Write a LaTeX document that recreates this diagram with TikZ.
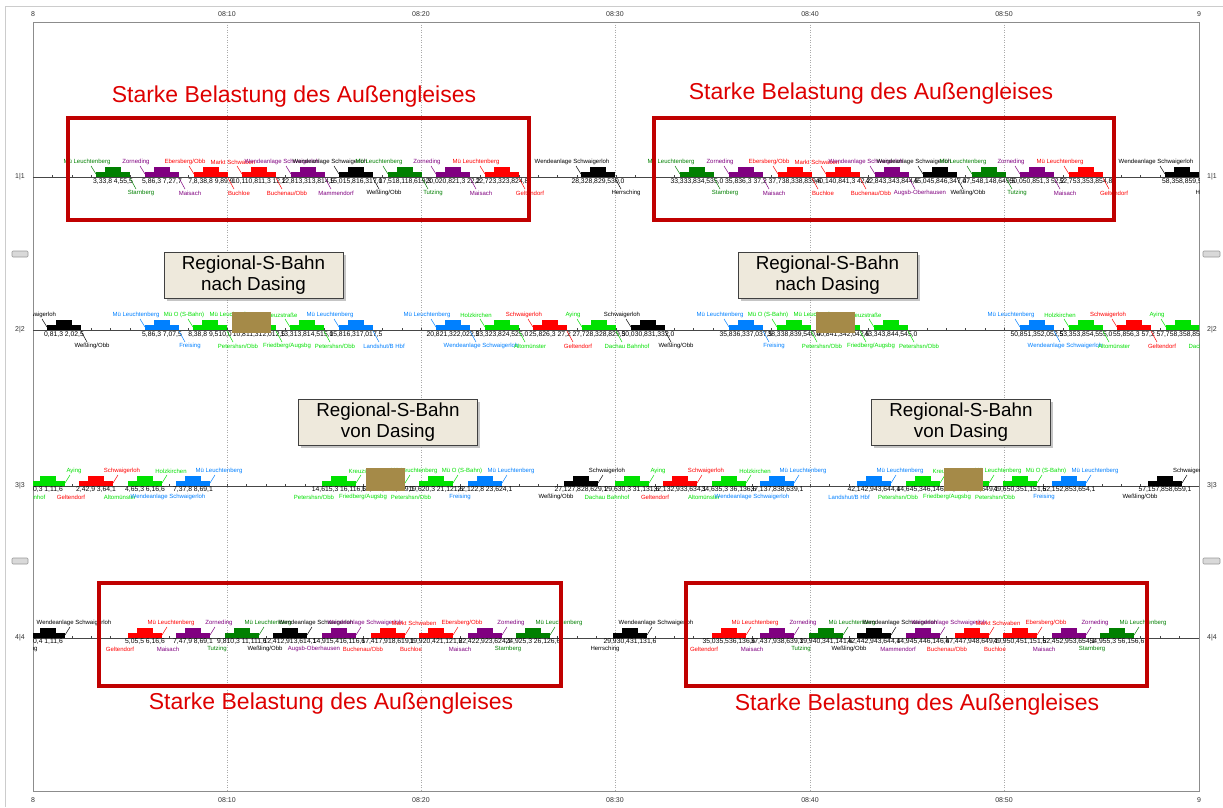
\documentclass[tikz,border=0pt]{standalone}
\usepackage{fontspec}
\setmainfont{Liberation Sans}
\usetikzlibrary{calc,shadows}
\definecolor{dkgreen}{RGB}{0,128,0}
\definecolor{pur}{RGB}{128,0,128}
\definecolor{lime}{RGB}{0,225,0}
\definecolor{sblue}{RGB}{0,128,255}
\definecolor{brownblk}{RGB}{165,138,72}
\definecolor{alertred}{RGB}{222,0,0}
\definecolor{framered}{RGB}{192,0,0}
\definecolor{calloutfill}{RGB}{238,233,220}
\definecolor{trackgray}{RGB}{70,70,70}
\definecolor{gridgray}{RGB}{170,170,170}

\tikzset{
  lbl/.style={font=\fontsize{6}{6}\selectfont, inner sep=0pt},
  num/.style={font=\fontsize{6.8}{6.8}\selectfont, inner sep=0pt, text=black},
  lead/.style={line width=0.5pt},
  axislbl/.style={font=\fontsize{7}{7}\selectfont, inner sep=0pt, text=black!80},
  rowlbl/.style={font=\fontsize{7}{7}\selectfont, inner sep=0pt, text=black!80},
  alerttext/.style={font=\fontsize{23}{23}\selectfont, text=alertred, inner sep=0pt},
  redframe/.style={draw=framered, line width=3.4pt},
  callout/.style={draw=black!75, line width=1pt, fill=calloutfill, align=center,
    font=\fontsize{18.8}{21}\selectfont, minimum width=179pt, minimum height=46pt, inner sep=0pt,
    drop shadow={shadow xshift=2.5pt, shadow yshift=-2.5pt, opacity=0.45}},
  marker/.style={draw=black!40, fill=black!15, rounded corners=1pt, line width=0.6pt},
  trackline/.style={draw=trackgray, line width=0.8pt},
  gridline/.style={draw=gridgray, line width=0.6pt, dash pattern=on 1pt off 1.5pt},
}

% train running with labels top-left / bottom-right
\newcommand{\trainL}[7]{%
  \begin{scope}[shift={(#2,#3)}]
    \fill[#4] (-17,0) rectangle (17,-5);
    \fill[#4] (-8,-5) rectangle (8,-10);
    \coordinate (#1a) at (-17,-3);
    \coordinate (#1b) at (17,1);
    \node[lbl,text=#4] (#1t) at (-26,-15) {#5};
    \node[num] (#1n) at (0,5) {#7};
    \node[lbl,text=#4] (#1u) at (28,16) {#6};
    \coordinate (#1p) at (-22,-11);
    \coordinate (#1q) at (23,12);
    \draw[lead,#4] (#1p) -- (#1a);
    \draw[lead,#4] (#1b) -- (#1q);
  \end{scope}}

% train running with labels top-right / bottom-left
\newcommand{\trainR}[7]{%
  \begin{scope}[shift={(#2,#3)}]
    \fill[#4] (-17,0) rectangle (17,-5);
    \fill[#4] (-8,-5) rectangle (8,-10);
    \coordinate (#1a) at (17,-3);
    \node[lbl,text=#4] (#1t) at (26,-15) {#5};
    \node[num] (#1n) at (0,4) {#7};
    \node[lbl,text=#4] (#1u) at (-25,11) {#6};
    \coordinate (#1p) at (22,-11);
    \draw[lead,#4] (#1p) -- (#1a);
  \end{scope}}

\begin{document}
\begin{tikzpicture}[x=1pt,y=-1pt]
\useasboundingbox (0,0) rectangle (1223,807);
\fill[white] (0,0) rectangle (1223,807);

% outer light border
\draw[black!20, line width=1pt] (5,807) -- (5,6) -- (1223,6);

% grid lines
\foreach \gx in {227,421,615,810,1004} {\draw[gridline] (\gx,22) -- (\gx,791);}

% plot frame
\draw[black!45, line width=1pt] (33,22) rectangle (1199,791);

% axis labels
\foreach \gx/\gt in {33/8,227/08:10,421/08:20,615/08:30,810/08:40,1004/08:50,1199/9} {
  \node[axislbl] at (\gx,14) {\gt};
  \node[axislbl] at (\gx,800) {\gt};
}

% row labels and track lines
\foreach \ry/\rl in {177/1|1,330/2|2,486/3|3,638/4|4} {
  \node[rowlbl] at (20,\ry) {\rl};
  \node[rowlbl] at (1212,\ry) {\rl};
  \draw[trackline] (33,\ry) -- (1199,\ry);
  \foreach \k in {1,...,59} {\draw[trackgray, line width=0.6pt] ({33+19.433*\k},\ry) -- ++(0,-1.8);}
}

% side markers
\foreach \my in {251,558} {
  \draw[marker] (12,\my) rectangle (28,{\my+6});
  \draw[marker] (1203,\my) rectangle (1220,{\my+6});
}

\begin{scope}
\clip (33,22) rectangle (1199,791);
% ---------- row 1 ----------
\trainL{aA}{113}{177}{dkgreen}{Mü Leuchtenberg}{Starnberg}{3,33,8 4,55,5}
\trainL{aB}{162}{177}{pur}{Zorneding}{Maisach}{5,86,3 7,27,7}
\trainL{aC}{211}{177}{red}{Ebersberg/Obb}{Buchloe}{7,8,38,8 9,89,9}
\trainL{aD}{259}{177}{red}{Markt Schwaben}{Buchenau/Obb}{10,110,811,3 12,2}
\trainL{aE}{308}{177}{pur}{Wendeanlage Schwaigerloh}{Mammendorf}{12,813,313,814,5}
\trainL{aF}{356}{177}{black}{Wendeanlage Schwaigerloh}{Weßling/Obb}{15,015,816,317,0}
\trainL{aG}{405}{177}{dkgreen}{Mü Leuchtenberg}{Tutzing}{17,518,118,619,3}
\trainL{aH}{453}{177}{pur}{Zorneding}{Maisach}{20,020,821,3 22,2}
\trainL{aI}{502}{177}{red}{Mü Leuchtenberg}{Geltendorf}{22,723,323,824,8}
\trainL{aJ}{598}{177}{black}{Wendeanlage Schwaigerloh}{Herrsching}{28,328,829,530,0}
\trainL{bA}{697}{177}{dkgreen}{Mü Leuchtenberg}{Starnberg}{33,333,834,535,0}
\trainL{bB}{746}{177}{pur}{Zorneding}{Maisach}{35,836,3 37,2}
\trainL{bC}{795}{177}{red}{Ebersberg/Obb}{Buchloe}{37,738,338,839,6}
\trainL{bD}{843}{177}{red}{Markt Schwaben}{Buchenau/Obb}{40,140,841,3 42,2}
\trainL{bE}{892}{177}{pur}{Wendeanlage Schwaigerloh}{Augsb-Oberhausen}{42,843,343,844,5}
\trainL{bF}{940}{177}{black}{Wendeanlage Schwaigerloh}{Weßling/Obb}{45,045,846,347,0}
\trainL{bG}{989}{177}{dkgreen}{Mü Leuchtenberg}{Tutzing}{47,548,148,649,5}
\trainL{bH}{1037}{177}{pur}{Zorneding}{Maisach}{50,050,851,3 52,2}
\trainL{bI}{1086}{177}{red}{Mü Leuchtenberg}{Geltendorf}{52,753,353,854,8}
\trainL{bJ}{1182}{177}{black}{Wendeanlage Schwaigerloh}{Herrsching}{58,358,859,5}
% ---------- row 2 ----------
\trainL{cA}{64}{330}{black}{Schwaigerloh}{Weßling/Obb}{0,81,3 2,02,5}
\trainL{cB}{162}{330}{sblue}{Mü Leuchtenberg}{Freising}{5,86,3 7,07,5}
\trainL{cC}{210}{330}{lime}{Mü O (S-Bahn)}{Petershsn/Obb}{8,38,8 9,510,0}
\trainL{cD}{259}{330}{lime}{Mü Leuchtenberg}{Friedberg/Augsbg}{10,811,312,012,5}
\trainL{cE}{307}{330}{lime}{Kreuzstraße}{Petershsn/Obb}{13,313,814,515,0}
\trainL{cF}{356}{330}{sblue}{Mü Leuchtenberg}{Landshut/B Hbf}{15,816,317,017,5}
\trainL{cG}{453}{330}{sblue}{Mü Leuchtenberg}{Wendeanlage Schwaigerloh}{20,821,322,022,5}
\trainL{cH}{502}{330}{lime}{Holzkirchen}{Altomünster}{23,323,824,525,0}
\trainL{cI}{550}{330}{red}{Schwaigerloh}{Geltendorf}{25,826,3 27,2}
\trainL{cJ}{599}{330}{lime}{Aying}{Dachau Bahnhof}{27,728,328,829,5}
\trainL{cK}{648}{330}{black}{Schwaigerloh}{Weßling/Obb}{30,030,831,332,0}
\trainL{dB}{746}{330}{sblue}{Mü Leuchtenberg}{Freising}{35,836,337,037,5}
\trainL{dC}{794}{330}{lime}{Mü O (S-Bahn)}{Petershsn/Obb}{38,338,839,540,0}
\trainL{dD}{843}{330}{lime}{Mü Leuchtenberg}{Friedberg/Augsbg}{40,841,342,042,5}
\trainL{dE}{891}{330}{lime}{Kreuzstraße}{Petershsn/Obb}{43,343,844,545,0}
\trainL{dG}{1037}{330}{sblue}{Mü Leuchtenberg}{Wendeanlage Schwaigerloh}{50,851,352,052,5}
\trainL{dH}{1086}{330}{lime}{Holzkirchen}{Altomünster}{53,353,854,555,0}
\trainL{dI}{1134}{330}{red}{Schwaigerloh}{Geltendorf}{55,856,3 57,2}
\trainL{dJ}{1183}{330}{lime}{Aying}{Dachau Bahnhof}{57,758,358,859,5}
% ---------- row 3 ----------
\trainR{eA}{48}{486}{lime}{Aying}{Dachau Bahnhof}{0,3 1,11,6}
\trainR{eB}{96}{486}{red}{Schwaigerloh}{Geltendorf}{2,42,9 3,64,1}
\trainR{eC}{145}{486}{lime}{Holzkirchen}{Altomünster}{4,65,3 6,16,6}
\trainR{eD}{193}{486}{sblue}{Mü Leuchtenberg}{Wendeanlage Schwaigerloh}{7,37,8 8,69,1}
\trainR{eF}{339}{486}{lime}{Kreuzstraße}{Petershsn/Obb}{14,615,3 16,116,6}
\trainR{eG}{388}{486}{lime}{Mü Leuchtenberg}{Friedberg/Augsbg}{17,117,818,619,1}
\trainR{eH}{436}{486}{lime}{Mü O (S-Bahn)}{Petershsn/Obb}{19,620,3 21,121,6}
\trainR{eI}{485}{486}{sblue}{Mü Leuchtenberg}{Freising}{22,122,8 23,624,1}
\trainR{eJ}{581}{486}{black}{Schwaigerloh}{Weßling/Obb}{27,127,828,629,1}
\trainR{fA}{632}{486}{lime}{Aying}{Dachau Bahnhof}{29,630,3 31,131,6}
\trainR{fB}{680}{486}{red}{Schwaigerloh}{Geltendorf}{32,132,933,634,1}
\trainR{fC}{729}{486}{lime}{Holzkirchen}{Altomünster}{34,635,3 36,136,6}
\trainR{fD}{777}{486}{sblue}{Mü Leuchtenberg}{Wendeanlage Schwaigerloh}{37,137,838,639,1}
\trainR{fE}{874}{486}{sblue}{Mü Leuchtenberg}{Landshut/B Hbf}{42,142,943,644,1}
\trainR{fF}{923}{486}{lime}{Kreuzstraße}{Petershsn/Obb}{44,645,346,146,6}
\trainR{fG}{972}{486}{lime}{Mü Leuchtenberg}{Friedberg/Augsbg}{47,147,848,649,1}
\trainR{fH}{1020}{486}{lime}{Mü O (S-Bahn)}{Petershsn/Obb}{49,650,351,151,6}
\trainR{fI}{1069}{486}{sblue}{Mü Leuchtenberg}{Freising}{52,152,853,654,1}
\trainR{fJ}{1165}{486}{black}{Schwaigerloh}{Weßling/Obb}{57,157,858,659,1}
% ---------- row 4 ----------
\trainR{gA}{48}{638}{black}{Wendeanlage Schwaigerloh}{Herrsching}{0,4 1,11,6}
\trainR{gB}{145}{638}{red}{Mü Leuchtenberg}{Geltendorf}{5,05,5 6,16,6}
\trainR{gC}{193}{638}{pur}{Zorneding}{Maisach}{7,47,9 8,69,1}
\trainR{gD}{242}{638}{dkgreen}{Mü Leuchtenberg}{Tutzing}{9,810,3 11,111,6}
\trainR{gE}{290}{638}{black}{Wendeanlage Schwaigerloh}{Weßling/Obb}{12,412,913,614,1}
\trainR{gF}{339}{638}{pur}{Wendeanlage Schwaigerloh}{Augsb-Oberhausen}{14,915,416,116,6}
\trainR{gG}{388}{638}{red}{Markt Schwaben}{Buchenau/Obb}{17,417,918,619,1}
\trainR{gH}{436}{638}{red}{Ebersberg/Obb}{Buchloe}{19,920,421,121,6}
\trainR{gI}{485}{638}{pur}{Zorneding}{Maisach}{22,422,923,624,1}
\trainR{gJ}{533}{638}{dkgreen}{Mü Leuchtenberg}{Starnberg}{24,925,3 26,126,6}
\trainR{gK}{630}{638}{black}{Wendeanlage Schwaigerloh}{Herrsching}{29,930,431,131,6}
\trainR{hB}{729}{638}{red}{Mü Leuchtenberg}{Geltendorf}{35,035,536,136,6}
\trainR{hC}{777}{638}{pur}{Zorneding}{Maisach}{37,437,938,639,1}
\trainR{hD}{826}{638}{dkgreen}{Mü Leuchtenberg}{Tutzing}{39,940,341,141,6}
\trainR{hE}{874}{638}{black}{Wendeanlage Schwaigerloh}{Weßling/Obb}{42,442,943,644,1}
\trainR{hF}{923}{638}{pur}{Wendeanlage Schwaigerloh}{Mammendorf}{44,945,446,146,6}
\trainR{hG}{972}{638}{red}{Markt Schwaben}{Buchenau/Obb}{47,447,948,649,1}
\trainR{hH}{1020}{638}{red}{Ebersberg/Obb}{Buchloe}{49,950,451,151,6}
\trainR{hI}{1069}{638}{pur}{Zorneding}{Maisach}{52,452,953,654,1}
\trainR{hJ}{1117}{638}{dkgreen}{Mü Leuchtenberg}{Starnberg}{54,955,3 56,156,6}

% brown blocks
\fill[brownblk] (232,312) rectangle (271,333);
\fill[brownblk] (816,312) rectangle (855,333);
\fill[brownblk] (366,468) rectangle (405,491);
\fill[brownblk] (944,468) rectangle (983,491);
\end{scope}

% red frames
\draw[redframe] (68,118) rectangle (529,220);
\draw[redframe] (654,118) rectangle (1114,220);
\draw[redframe] (99,583) rectangle (561,686);
\draw[redframe] (686,583) rectangle (1147,686);

% red annotations
\node[alerttext] (tA) at (294,97) {Starke Belastung des Außengleises};
\node[alerttext] (tB) at (871,94) {Starke Belastung des Außengleises};
\node[alerttext] (tC) at (331,704) {Starke Belastung des Außengleises};
\node[alerttext] (tD) at (917,705) {Starke Belastung des Außengleises};

% callouts
\node[callout] (kA) at (253.5,275) {Regional-S-Bahn\\nach Dasing};
\node[callout] (kB) at (827.5,275) {Regional-S-Bahn\\nach Dasing};
\node[callout] (kC) at (388,422) {Regional-S-Bahn\\von Dasing};
\node[callout] (kD) at (961,422) {Regional-S-Bahn\\von Dasing};
\end{tikzpicture}
\end{document}
